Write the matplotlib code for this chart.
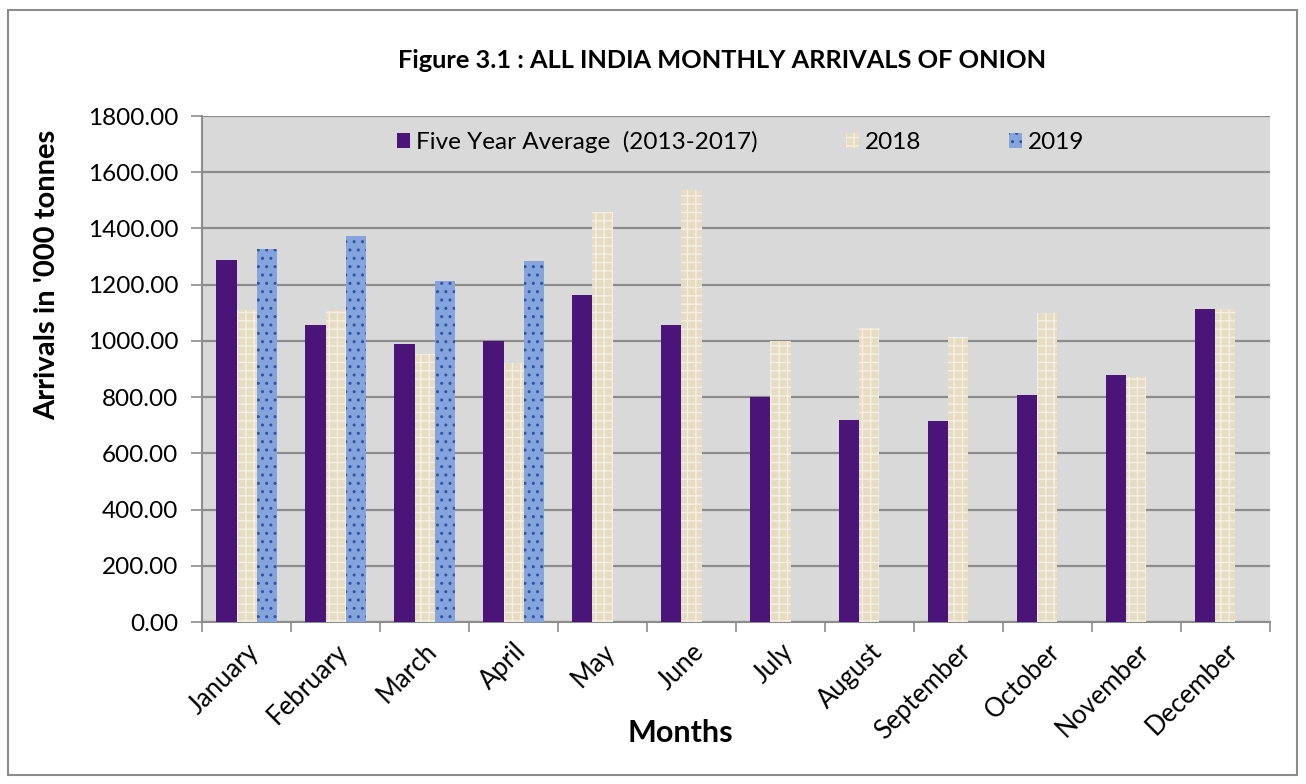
import numpy as np
import matplotlib.pyplot as plt
from matplotlib.patches import Rectangle

plt.rcParams['font.family'] = ['Lato', 'DejaVu Sans']
plt.rcParams['hatch.linewidth'] = 1.0

months = ['January', 'February', 'March', 'April', 'May', 'June', 'July',
          'August', 'September', 'October', 'November', 'December']
avg_5yr = [1288, 1057, 989, 1000, 1164, 1057, 802, 719, 715, 808, 879, 1114]
arr_2018 = [1110, 1107, 954, 922, 1459, 1537, 998, 1046, 1014, 1100, 872, 1112]
arr_2019 = [1327, 1374, 1214, 1285]

fig = plt.figure(figsize=(13.06, 7.84), dpi=100)
ax = fig.add_axes([0.1547, 0.2066, 0.8177, 0.6454])

# outer chart border
fig.patches.append(Rectangle((0.006, 0.012), 0.987, 0.975, transform=fig.transFigure,
                             fill=False, edgecolor='#8c8c8c', linewidth=1.5))

ax.set_facecolor('#d9d9d9')
x = np.arange(len(months))
w = 0.225

ax.bar(x - w, avg_5yr, w, color='#4a1478', edgecolor='#3a0d60', linewidth=0,
       label='Five Year Average  (2013-2017)', zorder=3)
ax.bar(x, arr_2018, w, color='#e6dcc4', edgecolor='#f5efe2', linewidth=0, hatch='++',
       label='2018', zorder=3)
ax.bar(x[:len(arr_2019)] + w, arr_2019, w, color='#85a3dc', edgecolor='#2f559e', linewidth=0,
       hatch='..', label='2019', zorder=3)

ax.set_ylim(0, 1800)
ax.set_xlim(-0.5, 11.5)
ax.set_yticks(np.arange(0, 1801, 200))
ax.set_yticklabels(['%.2f' % v for v in np.arange(0, 1801, 200)], fontsize=17.5)
ax.yaxis.grid(True, color='#8c8c8c', linewidth=1.6, zorder=0)
ax.set_axisbelow(True)

ax.set_xticks(x)
ax.set_xticklabels(months, rotation=45, ha='right', rotation_mode='anchor', fontsize=18.5)
ax.tick_params(axis='x', which='major', length=0, pad=12)
ax.set_xticks(np.arange(-0.5, 12, 1), minor=True)
ax.tick_params(axis='x', which='minor', length=7, color='#8c8c8c', width=1.2)
ax.tick_params(axis='y', length=8, color='#8c8c8c', width=1.2, pad=9)

for s in ['top', 'right']:
    ax.spines[s].set_visible(False)
for s in ['left', 'bottom']:
    ax.spines[s].set_color('#8c8c8c')
    ax.spines[s].set_linewidth(1.5)

ax.set_ylabel("Arrivals in '000 tonnes", fontsize=21, fontweight='bold')
ax.yaxis.set_label_coords(-0.133, 0.686)
ax.set_xlabel('Months', fontsize=22, fontweight='bold')
ax.xaxis.set_label_coords(0.4476, -0.191)
fig.text(0.553, 0.923, 'Figure 3.1 : ALL INDIA MONTHLY ARRIVALS OF ONION',
         ha='center', va='center', fontsize=18.3, fontweight='bold')

ax.legend(loc='center left', bbox_to_anchor=(397 / 1306, 1 - 142 / 784),
          bbox_transform=fig.transFigure, ncol=3, frameon=False,
          fontsize=17.5, handlelength=0.55, handleheight=0.55, handletextpad=0.25,
          columnspacing=3.6, borderpad=0, borderaxespad=0)

plt.savefig('out.png', dpi=100)
